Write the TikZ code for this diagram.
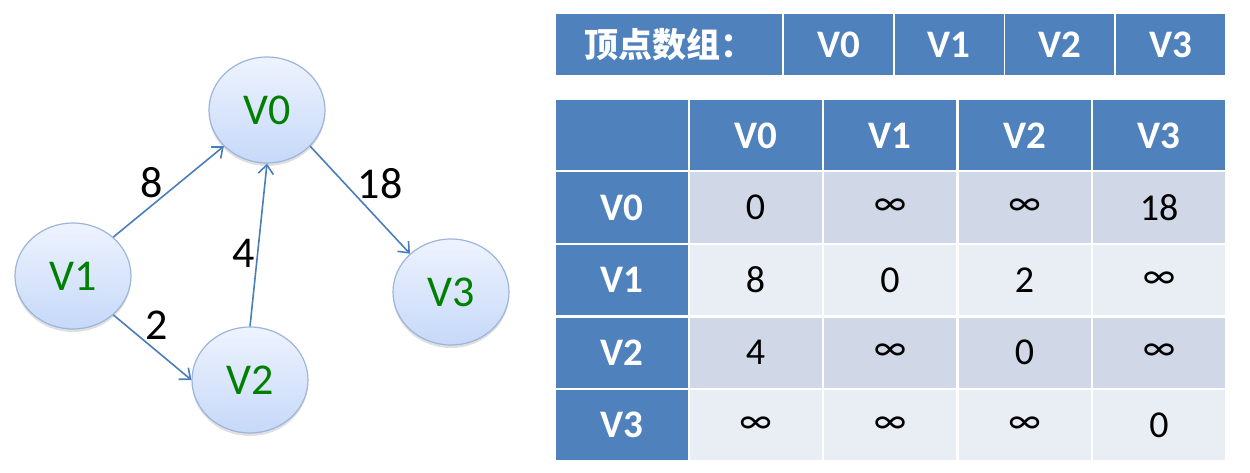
\documentclass[tikz,border=0pt]{standalone}
\usepackage{fontspec}
\setmainfont{Carlito}
\newfontfamily\cjkfont{Noto Sans CJK SC}
\usetikzlibrary{shapes.geometric,arrows.meta,shadows}

\definecolor{hdrblue}{HTML}{4F81BD}
\definecolor{rowdark}{HTML}{D0D8E8}
\definecolor{rowlight}{HTML}{E9EDF4}
\definecolor{vtop}{HTML}{EEF3FE}
\definecolor{vbottom}{HTML}{C6D9F9}
\definecolor{vborder}{HTML}{9DB5DA}
\definecolor{vgreen}{HTML}{008000}
\definecolor{eblue}{HTML}{4A7EBB}

\newcommand\graphfont{\fontsize{44}{50}\selectfont}
\newcommand\hdrfont{\fontsize{39}{45}\selectfont\bfseries}
\newcommand\bodyfont{\fontsize{38}{44}\selectfont}
\newcommand\infsym{∞}

\begin{document}
\begin{tikzpicture}[x=1pt,y=-1pt,
    vertex/.style={ellipse, draw=vborder, line width=1.2pt, top color=vtop, bottom color=vbottom,
      minimum width=116pt, minimum height=106pt, inner sep=0pt, text=vgreen, font=\graphfont,
      drop shadow={shadow xshift=0pt, shadow yshift=-3pt, opacity=0.25}},
    link/.style={draw=eblue, line width=1.6pt, -{Straight Barb[length=9pt,width=15pt]}},
    wlabel/.style={font=\graphfont, text=black, inner sep=0pt},
    cell/.style={minimum width=132pt, minimum height=70pt, inner sep=0pt},
    hcell/.style={cell, fill=hdrblue, text=white, font=\hdrfont},
    dcell/.style={cell, fill=rowdark, font=\bodyfont},
    lcell/.style={cell, fill=rowlight, font=\bodyfont},
    tcell/.style={minimum width=109pt, minimum height=61pt, inner sep=0pt, fill=hdrblue, text=white, font=\hdrfont}]
    \useasboundingbox (0,0) rectangle (1250,473);
    % graph
    \node[vertex] (v0) at (267,110) {V0};
    \node[vertex] (v1) at (73,276) {V1};
    \node[vertex] (v2) at (250,380) {V2};
    \node[vertex] (v3) at (451,292) {V3};
    \draw[link] (v1.44) -- node[wlabel, xshift=-17pt, yshift=9pt] {8} (v0.220);
    \draw[link] (v1.-44) -- node[wlabel, xshift=4pt, yshift=22pt] {2} (v2.180);
    \draw[link] (v2.north) -- node[wlabel, xshift=-15pt, yshift=-8pt] {4} (v0.south);
    \draw[link] (v0.-40) -- node[wlabel, xshift=20pt, yshift=16pt] {18} (v3.137);
    % vertex array
    \node[tcell, minimum width=226pt] (arr) at (669,44.5) {\cjkfont\fontsize{34}{40}\selectfont 顶点数组：};
    \foreach \i/\x in {0/838.5,1/949,2/1059.5,3/1170.5}
        \node[tcell] (arr\i) at (\x,44.5) {V\i};
    % adjacency matrix
    \node[hcell] (corner) at (621.5,135.5) {};
    \foreach \i in {0,...,3}
        \node[hcell] (col\i) at ({755.5+134.5*\i},135.5) {V\i};
    \foreach \j in {0,...,3}
        \node[hcell] (row\j) at (621.5,{207.5+72.5*\j}) {V\j};
    \foreach \v [count=\i from 0] in {0,\infsym,\infsym,18}
        \node[dcell] (m0\i) at ({755.5+134.5*\i},207.5) {\v};
    \foreach \v [count=\i from 0] in {8,0,2,\infsym}
        \node[lcell] (m1\i) at ({755.5+134.5*\i},280) {\v};
    \foreach \v [count=\i from 0] in {4,\infsym,0,\infsym}
        \node[dcell] (m2\i) at ({755.5+134.5*\i},352.5) {\v};
    \foreach \v [count=\i from 0] in {\infsym,\infsym,\infsym,0}
        \node[lcell] (m3\i) at ({755.5+134.5*\i},425) {\v};
\end{tikzpicture}
\end{document}
